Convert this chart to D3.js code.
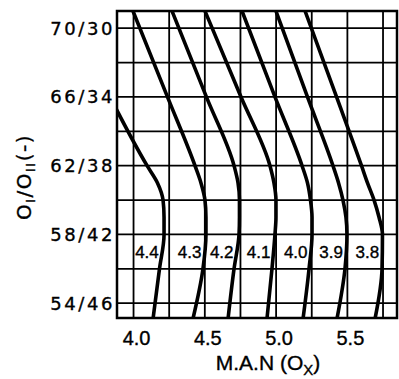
<!DOCTYPE html>
<html>
<head>
<meta charset="utf-8">
<script src="https://cdn.jsdelivr.net/npm/d3@7"></script>
<style>
body { margin: 0; background: #fff; }
text { stroke: #000; stroke-width: 0.35px; }
</style>
</head>
<body>
<div id="chart"></div>
<script>
// O_I share at which each curve was read (O_II = 100 - O_I)
var levels = [71, 66, 62, 61, 60, 59, 58, 56, 53.1];
var curveLabels = ['4.4', '4.3', '4.2', '4.1', '4.0', '3.9', '3.8'];
// M.A.N (O_X) of each curve at those levels, null = not on the chart
var man44 = [null, 3.835, 4.095, 4.168, 4.207, 4.214, 4.214, 4.182, 4.137];
var man43 = [3.996, 4.238, 4.431, 4.473, 4.501, 4.508, 4.508, 4.487, 4.417];
var man42 = [4.270, 4.511, 4.705, 4.733, 4.743, 4.743, 4.740, 4.705, 4.663];
var man41 = [4.501, 4.754, 4.957, 4.985, 4.999, 4.999, 4.992, 4.971, 4.936];
var man40 = [4.761, 4.992, 5.182, 5.220, 5.241, 5.252, 5.252, 5.231, 5.189];
var man39 = [4.999, 5.220, 5.399, 5.438, 5.469, 5.490, 5.497, 5.483, 5.427];
var man38 = [5.203, 5.424, 5.599, 5.641, 5.687, 5.722, 5.746, 5.743, 5.694];
var curves = [man44, man43, man42, man41, man40, man39, man38];

var yGrid = [54, 56, 58, 60, 62, 64, 66, 68, 70];
var yLabelled = [54, 58, 62, 66, 70];
var xGrid = [4.0, 4.25, 4.5, 4.75, 5.0, 5.25, 5.5, 5.75];
var xLabelled = [4.0, 4.5, 5.0, 5.5];

var width = 399, height = 379;
var plot = {left: 117, right: 397, top: 11, bottom: 318};

var svg = d3.select('#chart').append('svg')
	.attr('width', width)
	.attr('height', height);

svg.append('rect').attr('width', width).attr('height', height).attr('fill', '#fff');

var x = d3.scaleLinear()
	.domain([3.884, 5.848])
	.range([plot.left, plot.right]);

var y = d3.scaleLinear()
	.domain([53.14, 71])
	.range([plot.bottom, plot.top]);

svg.append('clipPath')
	.attr('id', 'plotclip')
	.append('rect')
	.attr('x', plot.left)
	.attr('y', plot.top)
	.attr('width', plot.right - plot.left)
	.attr('height', plot.bottom - plot.top);

// grid
var grid = svg.append('g').attr('stroke', '#000').attr('stroke-width', 1.8);
grid.selectAll('.hline')
	.data(yGrid)
	.enter().append('line')
	.attr('x1', plot.left).attr('x2', plot.right)
	.attr('y1', d => y(d)).attr('y2', d => y(d));
grid.selectAll('.vline')
	.data(xGrid)
	.enter().append('line')
	.attr('y1', plot.top).attr('y2', plot.bottom)
	.attr('x1', d => x(d)).attr('x2', d => x(d));

svg.append('rect')
	.attr('x', plot.left).attr('y', plot.top)
	.attr('width', plot.right - plot.left)
	.attr('height', plot.bottom - plot.top)
	.attr('fill', 'none')
	.attr('stroke', '#000')
	.attr('stroke-width', 2.5);

// curves
var line = d3.line()
	.defined(d => d[0] != null)
	.x(d => x(d[0]))
	.y(d => y(d[1]))
	.curve(d3.curveMonotoneY);

svg.append('g')
	.attr('clip-path', 'url(#plotclip)')
	.attr('fill', 'none')
	.attr('stroke', '#000')
	.attr('stroke-width', 3.6)
	.attr('stroke-linejoin', 'round')
	.selectAll('path')
	.data(curves)
	.enter().append('path')
	.attr('d', c => line(c.map((v, i) => [v, levels[i]])));

// curve labels, left of each curve around O_I = 57
var i58 = levels.indexOf(58), i56 = levels.indexOf(56);
svg.append('g')
	.style('font-family', '"Liberation Sans", Arial, sans-serif')
	.style('font-size', '17px')
	.attr('text-anchor', 'end')
	.selectAll('text')
	.data(curves)
	.enter().append('text')
	.attr('x', c => x((c[i58] + c[i56]) / 2) - 3)
	.attr('y', y(57) + 6)
	.text((c, i) => curveLabels[i]);

// y tick labels
svg.append('g')
	.style('font-family', '"DejaVu Sans", sans-serif')
	.style('font-size', '18px')
	.style('letter-spacing', '2.6px')
	.attr('text-anchor', 'end')
	.selectAll('text')
	.data(yLabelled)
	.enter().append('text')
	.attr('x', plot.left - 2)
	.attr('y', d => y(d))
	.attr('dy', '0.36em')
	.text(d => d + '/' + (100 - d));

// x tick labels
svg.append('g')
	.style('font-family', '"Liberation Sans", Arial, sans-serif')
	.style('font-size', '20px')
	.attr('text-anchor', 'middle')
	.selectAll('text')
	.data(xLabelled)
	.enter().append('text')
	.attr('x', d => x(d) + 3)
	.attr('y', 345)
	.text(d3.format('.1f'));

// axis titles
var xTitle = svg.append('text')
	.attr('x', 268)
	.attr('y', 370)
	.attr('text-anchor', 'middle')
	.style('font-family', '"Liberation Sans", Arial, sans-serif')
	.style('font-size', '21px');
xTitle.append('tspan').text('M.A.N (O');
xTitle.append('tspan').attr('baseline-shift', '-30%').style('font-size', '15px').text('X');
xTitle.append('tspan').text(')');

var yTitle = svg.append('text')
	.attr('transform', 'translate(31,177) rotate(-90)')
	.attr('text-anchor', 'middle')
	.style('font-family', '"DejaVu Sans", sans-serif')
	.style('font-size', '20px')
	.style('letter-spacing', '1.5px');
yTitle.append('tspan').text('O');
yTitle.append('tspan').attr('baseline-shift', '-30%').style('font-size', '13px').text('I');
yTitle.append('tspan').text('/O');
yTitle.append('tspan').attr('baseline-shift', '-30%').style('font-size', '13px').text('II');
yTitle.append('tspan').text('(-)');
</script>
</body>
</html>
